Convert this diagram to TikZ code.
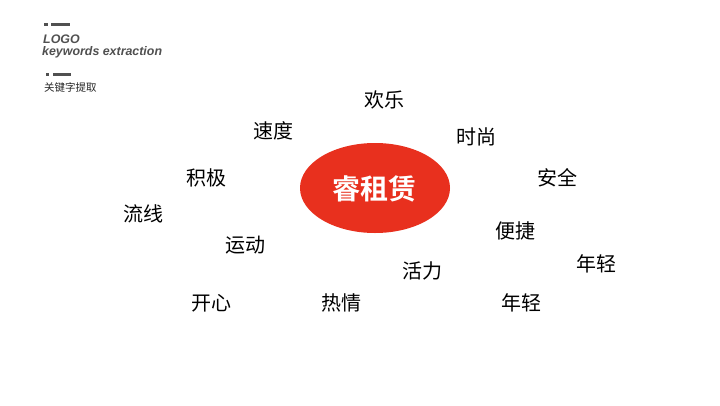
\documentclass[tikz,border=0pt]{standalone}
\usepackage{fontspec}
\setmainfont{Liberation Sans}
\newfontfamily\cjk{Noto Sans CJK SC}
\newfontfamily\cjkb{Noto Sans CJK SC Bold}
\definecolor{ered}{HTML}{E8301E}
\definecolor{dgray}{HTML}{505050}
\tikzset{
  kw/.style={font=\cjk\fontsize{20}{20}\selectfont, text=black, inner sep=0pt},
  bar/.style={fill=dgray, draw=none},
  logotxt/.style={anchor=base west, inner sep=0pt, text=dgray, font=\bfseries\itshape\fontsize{12.4}{12.4}\selectfont},
}
\begin{document}
\begin{tikzpicture}[x=1pt,y=-1pt]
\useasboundingbox (0,0) rectangle (720,405);
\fill[white] (0,0) rectangle (720,405);
% header marks
\fill[bar] (44,22.5) rectangle (47.5,26);
\fill[bar] (51,22.5) rectangle (70,26);
\node[logotxt] (logo) at (43,43) {LOGO};
\node[logotxt] (kwx) at (42,55.5) {keywords extraction};
\fill[bar] (46,72.5) rectangle (49,75.5);
\fill[bar] (53,72.5) rectangle (71,75.5);
\node[anchor=west, inner sep=0pt, text=black!85, font=\cjk\fontsize{10.5}{10.5}\selectfont] (gjz) at (44,87.5) {关键字提取};
% center ellipse
\fill[ered] (375,188) ellipse [x radius=75, y radius=45];
\node[inner sep=0pt, text=white, font=\cjkb\fontsize{28}{28}\selectfont] (center) at (374,189) {睿租赁};
% keywords
\node[kw] (k1) at (384,100) {欢乐};
\node[kw] (k2) at (273,131) {速度};
\node[kw] (k3) at (476,137) {时尚};
\node[kw] (k4) at (206,178) {积极};
\node[kw] (k5) at (557,178) {安全};
\node[kw] (k6) at (143,214) {流线};
\node[kw] (k7) at (515,231) {便捷};
\node[kw] (k8) at (245,245) {运动};
\node[kw] (k9) at (596,264) {年轻};
\node[kw] (k10) at (422,271) {活力};
\node[kw] (k11) at (211,303) {开心};
\node[kw] (k12) at (341,303) {热情};
\node[kw] (k13) at (521,303) {年轻};
\end{tikzpicture}
\end{document}
